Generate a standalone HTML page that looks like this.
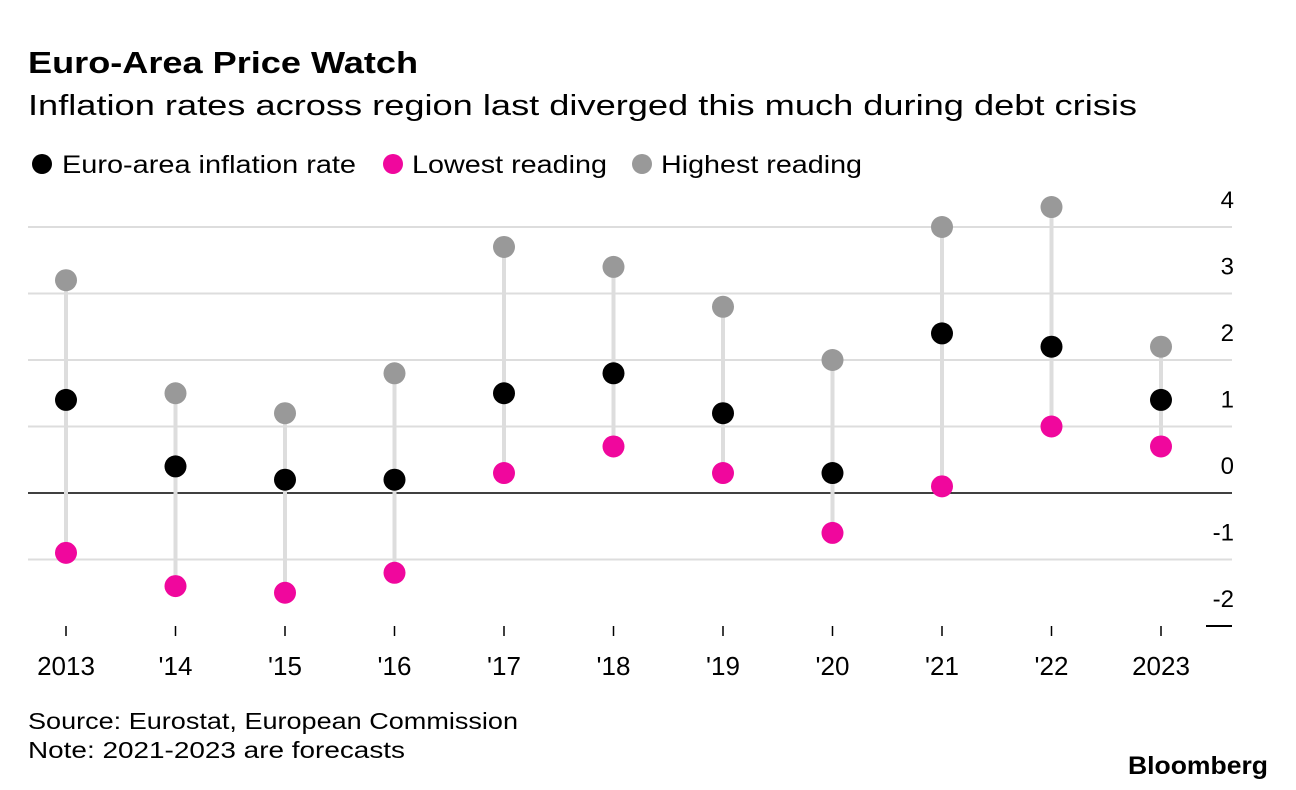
<!DOCTYPE html>
<html><head><meta charset="utf-8">
<style>
body{margin:0;width:1296px;height:790px;background:#fff;font-family:"Liberation Sans",sans-serif;overflow:hidden}
svg{display:block}
</style></head>
<body>
<svg id="chart" width="1296" height="790">
<text x="28" y="73" font-size="31" font-weight="bold" fill="#000" textLength="390" lengthAdjust="spacingAndGlyphs">Euro-Area Price Watch</text>
<text x="28" y="115" font-size="29" fill="#000" textLength="1109" lengthAdjust="spacingAndGlyphs">Inflation rates across region last diverged this much during debt crisis</text>
<g>
<circle cx="42" cy="164" r="10" fill="#000"/>
<text x="62" y="173" font-size="25" textLength="294" lengthAdjust="spacingAndGlyphs">Euro-area inflation rate</text>
<circle cx="393" cy="164" r="10" fill="#f0079d"/>
<text x="412" y="173" font-size="25" textLength="195" lengthAdjust="spacingAndGlyphs">Lowest reading</text>
<circle cx="642" cy="164" r="10" fill="#999"/>
<text x="661" y="173" font-size="25" textLength="201" lengthAdjust="spacingAndGlyphs">Highest reading</text>
</g>
<g id="plot"></g>
<text x="28" y="729" font-size="23" textLength="490" lengthAdjust="spacingAndGlyphs">Source: Eurostat, European Commission</text>
<text x="28" y="758" font-size="23" textLength="377" lengthAdjust="spacingAndGlyphs">Note: 2021-2023 are forecasts</text>
<text x="1128" y="774" font-size="25" font-weight="bold" textLength="140" lengthAdjust="spacingAndGlyphs">Bloomberg</text>
</svg>
<script>
const categories=["2013","'14","'15","'16","'17","'18","'19","'20","'21","'22","2023"];
const euroRate=[1.4,0.4,0.2,0.2,1.5,1.8,1.2,0.3,2.4,2.2,1.4];
const lowest=[-0.9,-1.4,-1.5,-1.2,0.3,0.7,0.3,-0.6,0.1,1.0,0.7];
const highest=[3.2,1.5,1.2,1.8,3.7,3.4,2.8,2.0,4.0,4.3,2.2];
const yTicks=[4,3,2,1,0,-1,-2];
const NS="http://www.w3.org/2000/svg";
const g=document.getElementById('plot');
const y=v=>493-v*66.5;
const x=i=>66+i*109.5;
function mk(t,a){const e=document.createElementNS(NS,t);for(const k in a)e.setAttribute(k,a[k]);g.appendChild(e);return e;}
yTicks.forEach(v=>{
  let l;
  if(v===-2){l=mk('line',{x1:1206,x2:1232,y1:y(v),y2:y(v),stroke:'#000','stroke-width':2});}
  else if(v===0){l=mk('line',{x1:28,x2:1232,y1:y(v),y2:y(v),stroke:'#000','stroke-width':1.5});}
  else{l=mk('line',{x1:28,x2:1232,y1:y(v),y2:y(v),stroke:'#ddd','stroke-width':2});}
  
  
  const t=mk('text',{x:1234,y:y(v)-19,'font-size':24,'text-anchor':'end'});
  t.textContent=String(v);
  
  
});
categories.forEach((c,i)=>{
  const tk=mk('line',{x1:x(i),x2:x(i),y1:626,y2:636,stroke:'#000','stroke-width':1.5});
  
  
  const t=mk('text',{x:x(i),y:675,'font-size':26,'text-anchor':'middle'});
  t.textContent=c;
  
  
  const s=mk('line',{x1:x(i),x2:x(i),y1:y(lowest[i]),y2:y(highest[i]),stroke:'#ddd','stroke-width':4});
  
  
});
[[highest,'#999','highest-dot'],[lowest,'#f0079d','lowest-dot'],[euroRate,'#000','euro-dot']].forEach(([arr,col,name])=>{
  arr.forEach((v,i)=>{
    const c=mk('circle',{cx:x(i),cy:y(v),r:11,fill:col});
    
    
  });
});
</script>
</body></html>
